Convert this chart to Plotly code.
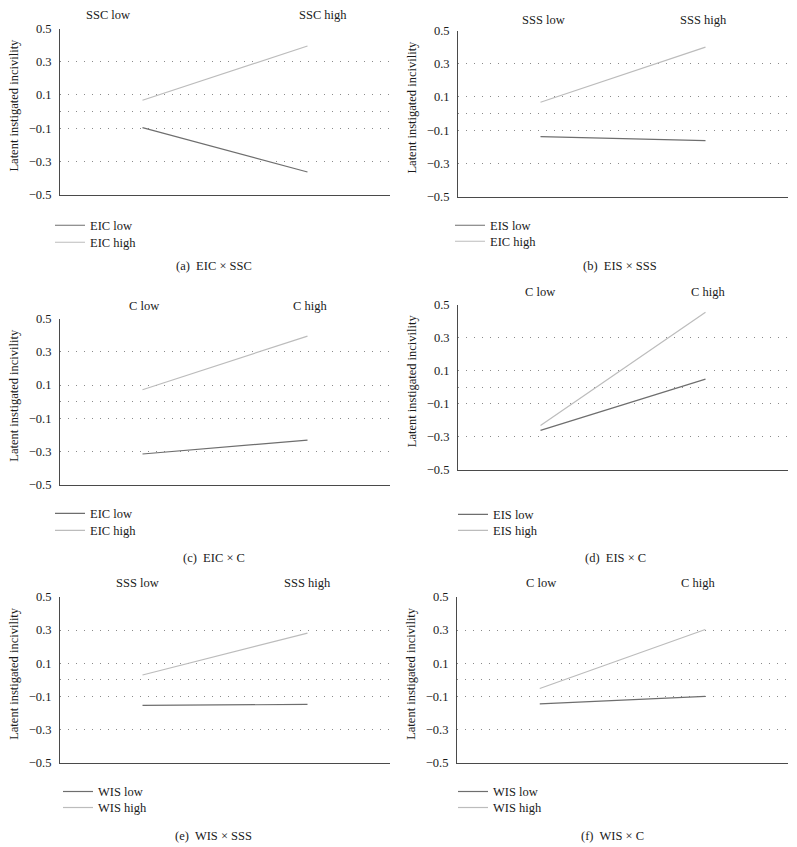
import plotly.graph_objects as go

W, H = 797, 847
FONT = "Liberation Serif"

# ---- data ----
x_levels = [0, 1]
panel_ids = ["a", "b", "c", "d", "e", "f"]
moderator_labels = {
    "a": ["SSC low", "SSC high"],
    "b": ["SSS low", "SSS high"],
    "c": ["C low", "C high"],
    "d": ["C low", "C high"],
    "e": ["SSS low", "SSS high"],
    "f": ["C low", "C high"],
}
series_names = {
    "a": ["EIC low", "EIC high"],
    "b": ["EIS low", "EIC high"],
    "c": ["EIC low", "EIC high"],
    "d": ["EIS low", "EIS high"],
    "e": ["WIS low", "WIS high"],
    "f": ["WIS low", "WIS high"],
}
captions = {
    "a": "(a)  EIC × SSC",
    "b": "(b)  EIS × SSS",
    "c": "(c)  EIC × C",
    "d": "(d)  EIS × C",
    "e": "(e)  WIS × SSS",
    "f": "(f)  WIS × C",
}
low_values = {
    "a": [-0.097, -0.364],
    "b": [-0.139, -0.163],
    "c": [-0.315, -0.231],
    "d": [-0.262, 0.049],
    "e": [-0.154, -0.148],
    "f": [-0.145, -0.100],
}
high_values = {
    "a": [0.068, 0.395],
    "b": [0.068, 0.400],
    "c": [0.072, 0.395],
    "d": [-0.232, 0.454],
    "e": [0.029, 0.281],
    "f": [-0.052, 0.303],
}
y_tickvals = [-0.5, -0.3, -0.1, 0.0, 0.1, 0.3, 0.5]
y_ticktext = ["\u22120.5", "\u22120.3", "\u22120.1", "", "0.1", "0.3", "0.5"]
y_title = "Latent instigated incivility"

# ---- layout (page-pixel geometry) ----
geom = {  # plot left, right, top, bottom
    "a": (60, 390, 28, 194),
    "b": (458, 788, 30, 196),
    "c": (60, 390, 318, 484),
    "d": (458, 788, 304, 469),
    "e": (60, 390, 596, 762),
    "f": (457, 788, 596, 762),
}
top_label_pos = {  # (x_low, x_high, y)
    "a": (108, 323, 14),
    "b": (543, 703, 19),
    "c": (144, 310, 305),
    "d": (540, 708, 291),
    "e": (137, 307, 582),
    "f": (541, 698, 582),
}
legend_pos = {  # (line start x, first entry y, second entry y)
    "a": (56, 225, 242),
    "b": (456, 225, 241),
    "c": (56, 513, 530),
    "d": (459, 514, 530),
    "e": (64, 791, 807),
    "f": (459, 791, 807),
}
caption_pos = {
    "a": (214, 265),
    "b": (620, 265),
    "c": (214, 557),
    "d": (615, 557),
    "e": (213, 835),
    "f": (612, 835),
}

# empirical vertical calibration of the rendered page
Y_OFF, Y_SCALE = 6.5, 0.983

def px(x):
    return x / W

def py(y):
    yy = (y - Y_OFF) / Y_SCALE
    return 1 - yy / H

LOW_COLOR = "#6e6e6e"
HIGH_COLOR = "#bcbcbc"
GRID_COLOR = "#8a8a8a"
AXIS_COLOR = "#4a4a4a"
TEXT_COLOR = "#1a1a1a"

fig = go.Figure()
annotations = []
layout_extra = {}
legend_counter = 0

for i, pid in enumerate(panel_ids, start=1):
    sfx = "" if i == 1 else str(i)
    l, r, t, b = geom[pid]
    lx, ly1, ly2 = legend_pos[pid]
    for name, vals, color, ly in (
        (series_names[pid][0], low_values[pid], LOW_COLOR, ly1),
        (series_names[pid][1], high_values[pid], HIGH_COLOR, ly2),
    ):
        legend_counter += 1
        lname = "legend" if legend_counter == 1 else f"legend{legend_counter}"
        fig.add_trace(go.Scatter(
            x=x_levels, y=vals, mode="lines", name=name,
            line=dict(color=color, width=1.2),
            xaxis=f"x{sfx}", yaxis=f"y{sfx}", legend=lname,
        ))
        layout_extra[lname] = dict(
            x=px(lx - 6), y=py(ly), xanchor="left", yanchor="middle",
            font=dict(family=FONT, size=12.5, color=TEXT_COLOR),
            bgcolor="rgba(0,0,0,0)", itemwidth=30, borderwidth=0,
        )
    layout_extra[f"xaxis{sfx}"] = dict(
        domain=[px(l), px(r)], range=[-0.5, 1.5], anchor=f"y{sfx}",
        showgrid=False, zeroline=False, showticklabels=False, ticks="",
        showline=True, linecolor=AXIS_COLOR, linewidth=1, fixedrange=True,
    )
    layout_extra[f"yaxis{sfx}"] = dict(
        domain=[py(b), py(t)], range=[-0.5, 0.5], anchor=f"x{sfx}",
        tickvals=y_tickvals, ticktext=y_ticktext,
        showgrid=True, gridcolor=GRID_COLOR, gridwidth=1, griddash="1px,7px",
        zeroline=False, showline=True, linecolor=AXIS_COLOR, linewidth=1,
        ticks="", ticklabelstandoff=5, fixedrange=True,
        tickfont=dict(family=FONT, size=12.5, color=TEXT_COLOR),
    )
    xl, xh, yy = top_label_pos[pid]
    for txt, xx in zip(moderator_labels[pid], (xl, xh)):
        annotations.append(dict(
            text=txt, x=px(xx), y=py(yy), xref="paper", yref="paper",
            xanchor="center", yanchor="middle", showarrow=False,
            font=dict(family=FONT, size=12.5, color=TEXT_COLOR),
        ))
    annotations.append(dict(
        text=y_title, x=px(l - 46), y=py((t + b) / 2 - 6), xref="paper", yref="paper",
        xanchor="center", yanchor="middle", textangle=-90, showarrow=False,
        font=dict(family=FONT, size=12.5, color=TEXT_COLOR),
    ))
    cx, cy = caption_pos[pid]
    annotations.append(dict(
        text=captions[pid], x=px(cx), y=py(cy), xref="paper", yref="paper",
        xanchor="center", yanchor="middle", showarrow=False,
        font=dict(family=FONT, size=12.5, color=TEXT_COLOR),
    ))

fig.update_layout(
    width=W, height=H,
    margin=dict(l=0, r=0, t=0, b=0),
    paper_bgcolor="white", plot_bgcolor="white",
    showlegend=True,
    annotations=annotations,
    **layout_extra,
)

post = (
    "document.documentElement.style.margin='0';"
    "document.body.style.margin='0';"
    "document.body.style.overflow='hidden';"
    "var d=document.getElementById('{plot_id}');"
    "d.style.position='fixed';d.style.left='0px';d.style.top='0px';"
)
fig.write_html("out.html", post_script=post, config={"displayModeBar": False})
